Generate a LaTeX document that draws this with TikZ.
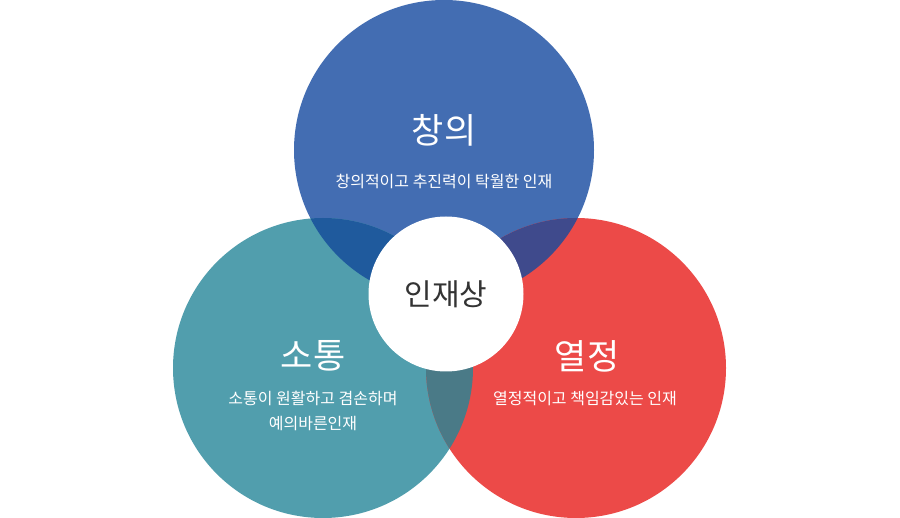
\documentclass[tikz,border=0pt]{standalone}
\usepackage{fontspec}
\newfontfamily\kr{Noto Sans CJK KR}
\definecolor{cblue}{HTML}{436DB2}
\definecolor{cteal}{HTML}{519EAD}
\definecolor{cred}{HTML}{EC4A48}
\definecolor{cbt}{HTML}{1F5A9D}
\definecolor{cbr}{HTML}{3F4A8C}
\definecolor{ctr}{HTML}{4A7A87}
\definecolor{ctext}{HTML}{333333}
\tikzset{
  title/.style={text=white, font=\kr\fontsize{35}{38}\selectfont, inner sep=0pt},
  sub/.style={text=white, font=\kr\fontsize{16}{25}\selectfont, align=center, inner sep=0pt},
  core/.style={text=ctext, font=\kr\fontsize{30}{32}\selectfont, inner sep=0pt}
}
\begin{document}
\begin{tikzpicture}[x=1pt,y=-1pt]
\useasboundingbox (0,0) rectangle (900,518);
\fill[white] (0,0) rectangle (900,518);
% circles
\fill[cblue] (444,150) circle[radius=150];
\fill[cteal] (323,368) circle[radius=150];
\fill[cred] (576,368) circle[radius=150];
% overlaps
\begin{scope}
  \clip (444,150) circle[radius=150];
  \fill[cbt] (323,368) circle[radius=150];
\end{scope}
\begin{scope}
  \clip (444,150) circle[radius=150];
  \fill[cbr] (576,368) circle[radius=150];
\end{scope}
\begin{scope}
  \clip (323,368) circle[radius=150];
  \fill[ctr] (576,368) circle[radius=150];
\end{scope}
% centre
\fill[white] (446,294) circle[radius=77.5];
\node[core] (core) at (446,294) {인재상};
% labels
\node[title] (t1) at (444,130) {창의};
\node[sub] (s1) at (444,181) {창의적이고 추진력이 탁월한 인재};
\node[title] (t2) at (313,356) {소통};
\node[sub] (s2) at (313,411) {소통이 원활하고 겸손하며\\예의바른인재};
\node[title] (t3) at (587,356) {열정};
\node[sub] (s3) at (585,399) {열정적이고 책임감있는 인재};
\end{tikzpicture}
\end{document}
